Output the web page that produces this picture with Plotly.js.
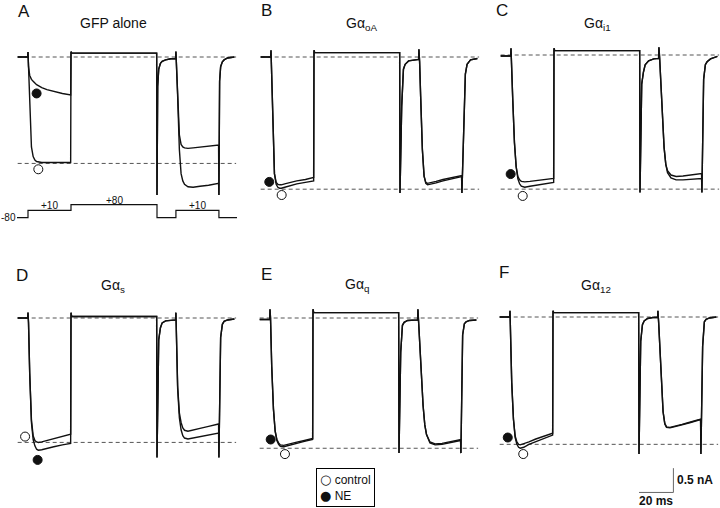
<!DOCTYPE html>
<html>
<head>
<meta charset="utf-8">
<script src="https://cdn.plot.ly/plotly-3.0.1.min.js"></script>
<style>
  html, body { margin: 0; padding: 0; background: #fff; }
  #chart { width: 720px; height: 508px; }
</style>
</head>
<body>
<div id="chart"></div>
<script>
// Whole-cell currents, control vs NE, for six G-alpha conditions.
// Time in ms (0 = start of the first +10 mV step), current in nA (0 = holding level).

const timeMs = [-6, -0.2, 0, 0.3, 1, 2, 3, 4, 5, 6, 8, 11, 15, 20, 24.8, 25, 25.4, 35, 50, 65, 74.8,
  75, 75.4, 76, 77, 78, 80, 83, 85.8, 86, 86.4, 87, 88, 89, 90, 91, 93, 96, 100, 105, 110.8,
  111, 111.4, 112, 113, 114, 116, 120];

const ctrlA = [0, 0, 0.1, -0.15, -0.95, -1.85, -2.05, -2.12, -2.15, -2.16, -2.17, -2.17, -2.17, -2.17, -2.17, 0.11, 0.08, 0.08, 0.08, 0.08, 0.08, -2.84, -0.6, -0.25, -0.13, -0.09, -0.06, -0.035, -0.03, 0.11, -0.2, -0.8, -1.9, -2.4, -2.55, -2.62, -2.67, -2.68, -2.66, -2.64, -2.6, -2.84, -0.5, -0.2, -0.1, -0.06, -0.02, 0];
const neA = [0, 0, 0.1, -0.2, -0.38, -0.46, -0.5, -0.54, -0.57, -0.59, -0.63, -0.67, -0.71, -0.75, -0.78, 0.11, 0.08, 0.08, 0.08, 0.08, 0.08, -2.84, -0.6, -0.25, -0.13, -0.09, -0.06, -0.035, -0.03, 0.11, -0.2, -0.8, -1.6, -1.8, -1.85, -1.87, -1.88, -1.87, -1.85, -1.83, -1.81, -2.84, -0.5, -0.2, -0.1, -0.06, -0.02, 0];

const ctrlB = [0, 0, 0.14, -0.3, -1.5, -2.4, -2.62, -2.68, -2.7, -2.7, -2.68, -2.65, -2.61, -2.58, -2.55, 0.14, 0.09, 0.09, 0.09, 0.09, 0.09, -2.8, -2.2, -1.0, -0.25, -0.15, -0.08, -0.06, -0.05, 0.16, -0.1, -0.8, -1.9, -2.45, -2.6, -2.63, -2.62, -2.59, -2.55, -2.51, -2.46, -2.8, -2.3, -1.2, -0.35, -0.15, -0.06, -0.03];
const neB = [0, 0, 0.14, -0.3, -1.5, -2.4, -2.58, -2.62, -2.63, -2.63, -2.61, -2.58, -2.55, -2.52, -2.48, 0.14, 0.09, 0.09, 0.09, 0.09, 0.09, -2.8, -2.2, -1.0, -0.25, -0.15, -0.08, -0.06, -0.05, 0.16, -0.1, -0.8, -1.9, -2.45, -2.58, -2.6, -2.59, -2.56, -2.52, -2.48, -2.44, -2.8, -2.3, -1.2, -0.35, -0.15, -0.06, -0.03];

const ctrlC = [-0.02, -0.02, 0.14, -0.1, -0.9, -1.8, -2.3, -2.55, -2.65, -2.7, -2.72, -2.7, -2.68, -2.65, -2.62, 0.14, 0.09, 0.09, 0.09, 0.09, 0.09, -2.83, -2.0, -0.6, -0.35, -0.2, -0.12, -0.08, -0.07, 0.16, -0.05, -0.5, -1.3, -1.9, -2.25, -2.42, -2.53, -2.57, -2.57, -2.56, -2.54, -2.83, -1.5, -0.5, -0.2, -0.14, -0.08, -0.03];
const neC = [-0.02, -0.02, 0.14, -0.1, -0.9, -1.8, -2.3, -2.5, -2.57, -2.6, -2.61, -2.6, -2.58, -2.56, -2.54, 0.14, 0.09, 0.09, 0.09, 0.09, 0.09, -2.83, -2.0, -0.6, -0.35, -0.2, -0.12, -0.08, -0.07, 0.16, -0.05, -0.5, -1.3, -1.9, -2.25, -2.38, -2.47, -2.5, -2.49, -2.47, -2.44, -2.83, -1.5, -0.5, -0.2, -0.14, -0.08, -0.03];

const ctrlD = [0, 0, 0.11, -0.1, -1.15, -2.1, -2.42, -2.52, -2.55, -2.56, -2.55, -2.52, -2.48, -2.44, -2.39, 0.11, 0.03, 0.03, 0.03, 0.03, 0.03, -2.87, -1.5, -0.45, -0.2, -0.1, -0.06, -0.045, -0.04, 0.11, -0.5, -1.4, -1.95, -2.15, -2.26, -2.31, -2.33, -2.31, -2.27, -2.23, -2.18, -2.87, -1.2, -0.4, -0.13, -0.07, -0.04, -0.02];
const neD = [0, 0, 0.11, -0.1, -1.15, -2.15, -2.5, -2.63, -2.7, -2.72, -2.71, -2.68, -2.65, -2.61, -2.58, 0.11, 0.03, 0.03, 0.03, 0.03, 0.03, -2.87, -1.5, -0.45, -0.2, -0.1, -0.06, -0.045, -0.04, 0.11, -0.5, -1.45, -2.05, -2.3, -2.42, -2.47, -2.49, -2.47, -2.44, -2.41, -2.37, -2.87, -1.2, -0.4, -0.13, -0.07, -0.04, -0.02];

const ctrlE = [-0.03, -0.03, 0.18, 0, -1.0, -1.87, -2.33, -2.52, -2.6, -2.64, -2.65, -2.62, -2.58, -2.54, -2.5, 0.18, 0.11, 0.11, 0.11, 0.11, 0.11, -2.78, -2.0, -0.7, -0.15, -0.09, -0.05, -0.04, -0.04, 0.18, -0.1, -0.6, -1.2, -1.8, -2.2, -2.4, -2.57, -2.61, -2.6, -2.57, -2.52, -2.78, -1.3, -0.35, -0.12, -0.08, -0.05, -0.04];
const neE = [-0.03, -0.03, 0.18, 0, -1.0, -1.87, -2.33, -2.5, -2.57, -2.61, -2.62, -2.6, -2.56, -2.52, -2.48, 0.18, 0.11, 0.11, 0.11, 0.11, 0.11, -2.78, -2.0, -0.7, -0.15, -0.09, -0.05, -0.04, -0.04, 0.18, -0.1, -0.6, -1.2, -1.8, -2.2, -2.4, -2.55, -2.59, -2.58, -2.55, -2.5, -2.78, -1.3, -0.35, -0.12, -0.08, -0.05, -0.04];

const ctrlF = [0, 0, 0.13, -0.4, -1.35, -2.1, -2.48, -2.62, -2.68, -2.7, -2.68, -2.62, -2.56, -2.49, -2.43, 0.13, 0.09, 0.09, 0.09, 0.09, 0.09, -2.82, -1.8, -0.5, -0.16, -0.08, -0.03, -0.01, -0.01, 0.13, -0.1, -0.5, -1.3, -1.95, -2.2, -2.27, -2.28, -2.26, -2.22, -2.17, -2.11, -2.82, -1.5, -0.6, -0.1, -0.05, -0.02, 0];
const neF = [0, 0, 0.13, -0.4, -1.35, -2.1, -2.45, -2.57, -2.62, -2.63, -2.61, -2.57, -2.51, -2.45, -2.39, 0.13, 0.09, 0.09, 0.09, 0.09, 0.09, -2.82, -1.8, -0.5, -0.16, -0.08, -0.03, -0.01, -0.01, 0.13, -0.1, -0.5, -1.3, -1.95, -2.19, -2.26, -2.27, -2.25, -2.21, -2.16, -2.1, -2.82, -1.5, -0.6, -0.1, -0.05, -0.02, 0];

const controlSeries = [ctrlA, ctrlB, ctrlC, ctrlD, ctrlE, ctrlF];
const neSeries = [neA, neB, neC, neD, neE, neF];

// reference levels drawn dashed: holding (0) and control peak
const peakLevel = [-2.19, -2.72, -2.76, -2.56, -2.68, -2.62];
const dashSpanMs = [-6, 121];

// symbol positions next to the traces
const ctrlMarkMs = [6.0, 6.2, 6.8, -1.7, 8.7, 7.7];
const ctrlMarkNa = [-2.31, -2.84, -2.9, -2.44, -2.8, -2.82];
const neMarkMs = [5.0, -1.0, -0.2, 5.6, 0.4, -1.3];
const neMarkNa = [-0.75, -2.57, -2.45, -2.92, -2.5, -2.48];

const panelLetters = ["A", "B", "C", "D", "E", "F"];
const panelTitles = ["GFP alone", "Gα<sub>oA</sub>", "Gα<sub>i1</sub>", "Gα<sub>s</sub>", "Gα<sub>q</sub>", "Gα<sub>12</sub>"];
const keyLabels = ["control", "NE"];

// voltage protocol (panel A)
const protocolMs = [-6.4, 0, 0, 25, 25, 75, 75, 86, 86, 111, 111, 121.5];
const protocolMv = [-80, -80, 10, 10, 80, 80, -80, -80, 10, 10, -80, -80];
const protocolLabelMs = [12.5, 50, 98.5];
const protocolLabelMv = [10, 80, 10];

// scale bar (drawn in panel F units)
const scaleBarMs = [75, 95, 95];
const scaleBarNa = [-3.61, -3.61, -3.11];

// ---- page geometry (pixels of the 720x508 page) ----
const W = 720, H = 508;
const PX_PER_MS = 1.72, PX_PER_NA = 48.6;
const X_RANGE = [-7, 121.5];
const onsetPx = [28, 271, 511, 28, 270, 510];
const basePx = [57, 57, 55, 318, 318, 317];
const rowPx = [[35, 232], [35, 232], [35, 232], [295, 505], [295, 505], [295, 505]];
const letterPx = [[24, 12], [266, 11], [502, 11], [22, 275], [266, 274], [504, 272]];
const titlePx = [[113, 23], [361, 24], [597, 24], [113, 286], [357, 285], [596, 286]];

const FONT = "Liberation Sans, Arial, Helvetica, sans-serif";
const INK = "#111";

function ax(i) { return i === 0 ? "" : String(i + 1); }

const traces = [];
const layout = {
  width: W, height: H,
  margin: { l: 0, r: 0, t: 0, b: 0 },
  paper_bgcolor: "white", plot_bgcolor: "rgba(0,0,0,0)",
  font: { family: FONT, color: INK },
  showlegend: false,
  annotations: [],
};

for (let i = 0; i < 6; i++) {
  const x0 = onsetPx[i] + X_RANGE[0] * PX_PER_MS;
  const x1 = onsetPx[i] + X_RANGE[1] * PX_PER_MS;
  const [top, bot] = rowPx[i];
  layout["xaxis" + ax(i)] = {
    domain: [x0 / W, x1 / W], range: X_RANGE, anchor: "y" + ax(i), visible: false, fixedrange: true,
  };
  layout["yaxis" + ax(i)] = {
    domain: [1 - bot / H, 1 - top / H],
    range: [(basePx[i] - bot) / PX_PER_NA, (basePx[i] - top) / PX_PER_NA],
    anchor: "x" + ax(i), visible: false, fixedrange: true,
  };
  const xa = "x" + ax(i), ya = "y" + ax(i);

  // dashed guides
  [0, peakLevel[i]].forEach((lvl) => traces.push({
    x: dashSpanMs, y: [lvl, lvl], xaxis: xa, yaxis: ya, mode: "lines", hoverinfo: "skip",
    line: { color: "#555", width: 1, dash: "4px,3px" },
  }));

  // current traces
  [controlSeries[i], neSeries[i]].forEach((ys) => traces.push({
    x: timeMs, y: ys, xaxis: xa, yaxis: ya, mode: "lines",
    line: { color: INK, width: 1.4 },
  }));

  // open / filled symbols
  traces.push({
    x: [ctrlMarkMs[i]], y: [ctrlMarkNa[i]], xaxis: xa, yaxis: ya, mode: "markers", name: keyLabels[0],
    marker: { symbol: "circle", size: 9, color: "white", line: { color: INK, width: 1 } },
  });
  traces.push({
    x: [neMarkMs[i]], y: [neMarkNa[i]], xaxis: xa, yaxis: ya, mode: "markers", name: keyLabels[1],
    marker: { symbol: "circle", size: 9, color: INK, line: { color: INK, width: 1 } },
  });

  layout.annotations.push({
    xref: "paper", yref: "paper", x: letterPx[i][0] / W, y: 1 - letterPx[i][1] / H,
    text: panelLetters[i], showarrow: false, xanchor: "center", yanchor: "middle",
    font: { size: 17, family: FONT, color: INK },
  });
  layout.annotations.push({
    xref: "paper", yref: "paper", x: titlePx[i][0] / W, y: 1 - titlePx[i][1] / H,
    text: panelTitles[i], showarrow: false, xanchor: "center", yanchor: "middle",
    font: { size: 14, family: FONT, color: INK },
  });
}

// voltage protocol on its own y axis under panel A
layout.yaxis7 = { domain: [1 - 230 / H, 1 - 190 / H], range: [-231.4, 261], anchor: "x", visible: false, fixedrange: true };
traces.push({
  x: protocolMs, y: protocolMv, xaxis: "x", yaxis: "y7", mode: "lines",
  line: { color: INK, width: 1.2 },
});
protocolLabelMs.forEach((t, k) => layout.annotations.push({
  xref: "x", yref: "y7", x: t, y: protocolLabelMv[k], text: "+" + protocolLabelMv[k],
  showarrow: false, xanchor: "center", yanchor: "bottom", yshift: -3,
  font: { size: 10, family: FONT, color: INK },
}));
layout.annotations.push({
  xref: "x", yref: "y7", x: protocolMs[0], y: protocolMv[0], text: String(protocolMv[0]),
  showarrow: false, xanchor: "right", yanchor: "middle", xshift: 1, font: { size: 10, family: FONT, color: INK },
});

// key box for the two symbols
const dot = (ch) => '<span style="font-family:DejaVu Sans;font-size:13px">' + ch + "</span> ";
layout.annotations.push({
  xref: "paper", yref: "paper", x: 316 / W, y: 1 - 468 / H, xanchor: "left", yanchor: "top",
  align: "left", showarrow: false, bordercolor: "#000", borderwidth: 1, borderpad: 3, bgcolor: "white",
  text: dot("○") + keyLabels[0] + "<br>" + dot("●") + keyLabels[1],
  font: { size: 12, family: FONT, color: INK },
});

// scale bar
traces.push({
  x: scaleBarMs, y: scaleBarNa, xaxis: "x6", yaxis: "y6", mode: "lines",
  line: { color: "#666", width: 1 },
});
layout.annotations.push({
  xref: "x6", yref: "y6", x: scaleBarMs[2] + 1, y: (scaleBarNa[1] + scaleBarNa[2]) / 2,
  text: "<b>0.5 nA</b>", showarrow: false, xanchor: "left", yanchor: "middle",
  font: { size: 12, family: FONT, color: INK },
});
layout.annotations.push({
  xref: "x6", yref: "y6", x: (scaleBarMs[0] + scaleBarMs[1]) / 2, y: scaleBarNa[0],
  text: "<b>20 ms</b>", showarrow: false, xanchor: "center", yanchor: "top",
  font: { size: 12, family: FONT, color: INK },
});

Plotly.newPlot("chart", traces, layout, { displayModeBar: false, staticPlot: true });
</script>
</body>
</html>
